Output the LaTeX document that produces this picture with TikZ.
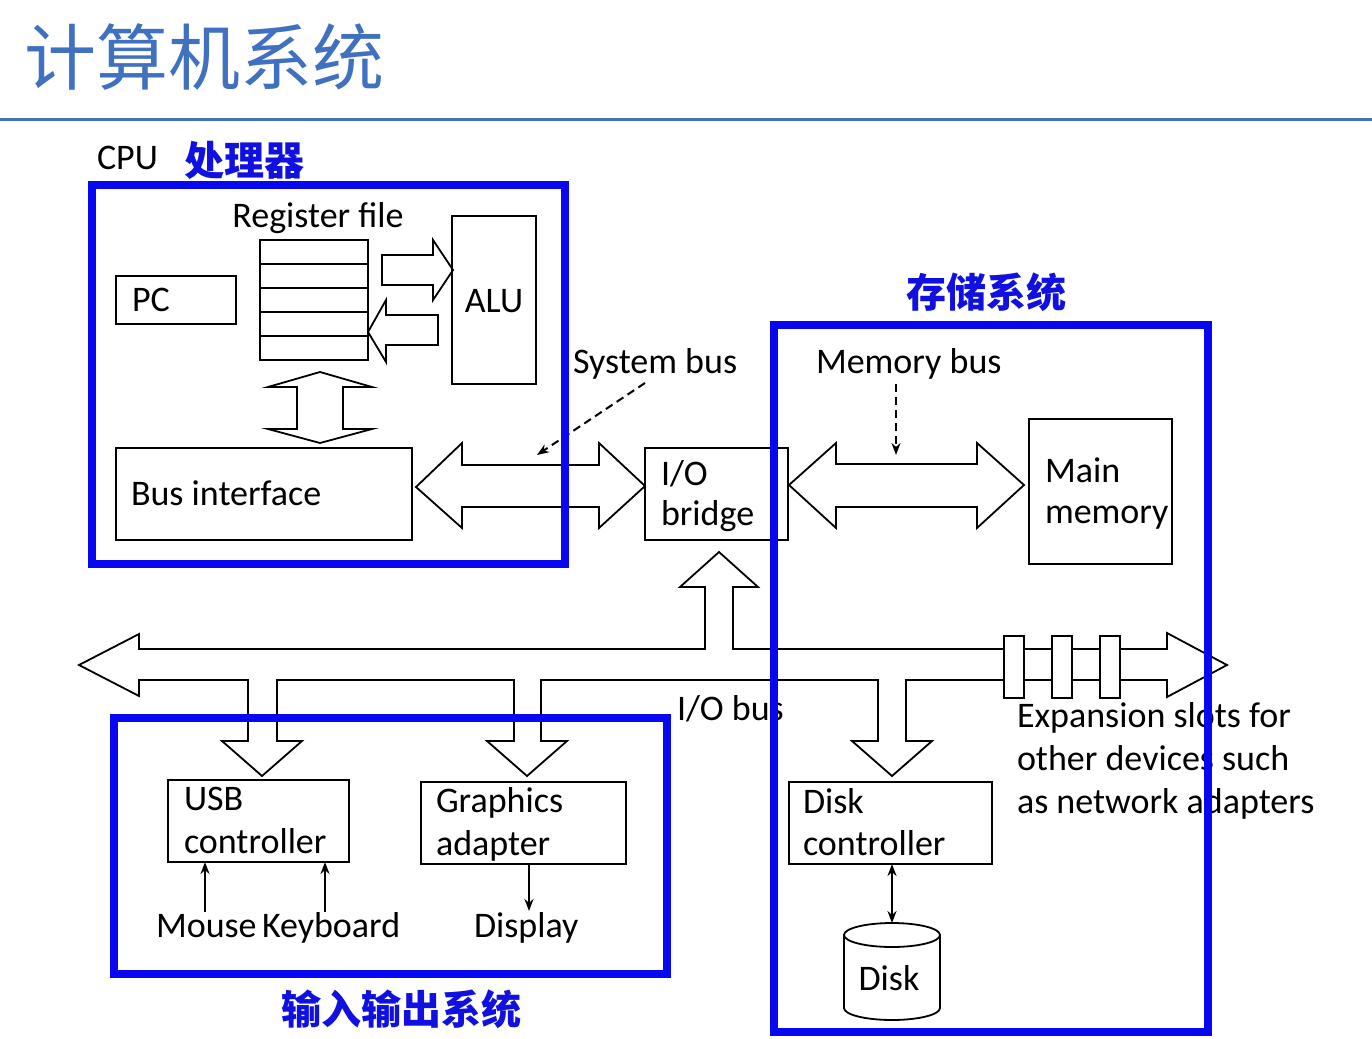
\documentclass[tikz,border=0pt]{standalone}
\usepackage{fontspec}
\setmainfont{Carlito}
\newfontfamily\cjk{Noto Sans CJK SC}
\usetikzlibrary{arrows.meta}
\definecolor{titleblue}{RGB}{64,112,192}
\definecolor{boxblue}{RGB}{8,8,240}
\definecolor{lblblue}{RGB}{16,16,224}
\begin{document}
\begin{tikzpicture}[x=1pt,y=-1pt,
  box/.style={draw=black, line width=1.8pt, inner sep=0pt, outer sep=0pt, anchor=north west},
  bluebox/.style={draw=boxblue, line width=8pt, inner sep=0pt, outer sep=0pt, anchor=north west},
  fat/.style={draw=black, line width=1.8pt, fill=white, line join=miter},
  txt/.style={anchor=base west, inner sep=0pt, outer sep=0pt, font=\fontsize{36}{43}\selectfont, align=left},
  cjklbl/.style={anchor=base west, inner sep=0pt, outer sep=0pt, text=lblblue, font=\cjk\bfseries\fontsize{40}{44}\selectfont},
  conn/.style={draw=black, line width=2pt},
  tip/.tip={Stealth[length=12pt,width=9pt]},
]
\useasboundingbox (0,0) rectangle (1372,1038);

% title
\node[anchor=base west, inner sep=0pt, text=titleblue, font=\cjk\fontsize{72}{80}\selectfont] (title) at (24,85) {计算机系统};
\draw[titleblue, line width=3pt] (0,120) -- (1372,120);

% ---------- fat bus arrows ----------
% I/O bus with branches
\draw[fat] (79,665) -- (139,634) -- (139,649) -- (705,649) -- (705,587) -- (680,587) -- (719,552)
  -- (758,587) -- (733,587) -- (733,649) -- (1167,649) -- (1167,633) -- (1227,665) -- (1167,697)
  -- (1167,680) -- (906,680) -- (906,741) -- (932,741) -- (892,776) -- (852,741) -- (878,741)
  -- (878,680) -- (541,680) -- (541,741) -- (567,741) -- (527,776) -- (487,741) -- (514,741)
  -- (514,680) -- (277,680) -- (277,741) -- (302,741) -- (262,776) -- (222,741) -- (248,741)
  -- (248,680) -- (139,680) -- (139,696) -- cycle;
\foreach \sx in {1004,1052,1100}
  \draw[fat] (\sx,636) rectangle ++(20,62);

% system bus
\draw[fat] (416,487) -- (462,443) -- (462,465) -- (599,465) -- (599,443) -- (645,486)
  -- (599,528) -- (599,507) -- (462,507) -- (462,528) -- cycle;
% memory bus
\draw[fat] (789,485) -- (836,443) -- (836,464) -- (977,464) -- (977,443) -- (1024,485)
  -- (977,528) -- (977,507) -- (836,507) -- (836,528) -- cycle;
% register file -> ALU
\draw[fat] (382,255) -- (433,255) -- (433,240) -- (453,270) -- (433,300) -- (433,285) -- (382,285) -- cycle;
% ALU -> register file
\draw[fat] (438,315) -- (386,315) -- (386,300) -- (368,332) -- (386,362) -- (386,345) -- (438,345) -- cycle;
% register file <-> bus interface
\draw[fat] (320,372) -- (372,387) -- (343,387) -- (343,429) -- (372,429) -- (320,443)
  -- (268,429) -- (297,429) -- (297,387) -- (268,387) -- cycle;

% ---------- boxes ----------
\node[box, minimum width=120pt, minimum height=48pt] (pc) at (116,276) {};
\node[box, minimum width=108pt, minimum height=120pt] (regfile) at (260,240) {};
\foreach \yy in {264,288,312,336}
  \draw[line width=1.8pt] (260,\yy) -- (368,\yy);
\node[box, minimum width=84pt, minimum height=168pt] (alu) at (452,216) {};
\node[box, minimum width=296pt, minimum height=92pt] (busif) at (116,448) {};
\node[box, minimum width=143pt, minimum height=92pt] (bridge) at (645,448) {};
\node[box, minimum width=143pt, minimum height=145pt] (mainmem) at (1029,419) {};
\node[box, minimum width=181pt, minimum height=82pt] (usb) at (168,780) {};
\node[box, minimum width=205pt, minimum height=82pt] (gfx) at (421,782) {};
\node[box, minimum width=203pt, minimum height=82pt] (diskctrl) at (789,782) {};

% disk cylinder
\node[inner sep=0pt, outer sep=0pt, minimum width=96pt, minimum height=97pt] (disk) at (892,971.5) {};
\draw[line width=1.8pt, fill=white] (844,935) -- (844,1008) arc[start angle=180, end angle=360, x radius=48pt, y radius=12pt] -- (940,935);
\draw[line width=1.8pt] (892,935) ellipse [x radius=48pt, y radius=12pt];

% ---------- texts ----------
\node[txt] (cpu) at (97,169) {CPU};
\node[cjklbl] (cpulbl) at (184,175) {处理器};
\node[cjklbl] (memlbl) at (906,307) {存储系统};
\node[cjklbl] (iolbl) at (281,1024) {输入输出系统};

\node[txt, anchor=base] (regfilelbl) at (318,227) {Register file};
\node[txt] (pclbl) at (132,311) {PC};
\node[txt, anchor=base] (alulbl) at (494,312) {ALU};
\node[txt] (busiflbl) at (131,505) {Bus interface};
\node[txt] (sysbus) at (573,373) {System bus};
\node[txt, font=\fontsize{36}{40}\selectfont] (bridgelbl) at (661,525) {I/O\\bridge};
\node[txt] (membus) at (816,373) {Memory bus};
\node[txt, font=\fontsize{36}{41}\selectfont] (mainmemlbl) at (1045,523) {Main\\memory};
\node[txt] (iobus) at (677,720) {I/O bus};
\node[txt] (expansion) at (1017,813) {Expansion slots for\\other devices such\\as network adapters};
\node[txt] (usblbl) at (184,853) {USB\\controller};
\node[txt] (gfxlbl) at (436,855) {Graphics\\adapter};
\node[txt, font=\fontsize{36}{42}\selectfont] (diskctrllbl) at (803,855) {Disk\\controller};
\node[txt] (mouse) at (156,937) {Mouse};
\node[txt] (kbd) at (262,937) {Keyboard};
\node[txt] (disp) at (474,937) {Display};
\node[txt, anchor=base] (disklbl) at (889,990) {Disk};

% ---------- thin connectors ----------
\coordinate (mousetop) at (205,912);
\coordinate (kbdtop) at (325,912);
\coordinate (disptop) at (529,911);
\coordinate (sbstart) at (645,383);
\coordinate (sbtip) at (537,455);
\coordinate (mbstart) at (896,384);
\coordinate (mbtip) at (896,455);
\draw[conn, -tip] (mousetop) -- (mousetop |- usb.south);
\draw[conn, -tip] (kbdtop) -- (kbdtop |- usb.south);
\draw[conn, -tip] (disptop |- gfx.south) -- (disptop);
\draw[conn, tip-tip] (diskctrl.south -| disk.north) -- (disk.north);
\draw[conn, -tip, dash pattern=on 8pt off 5pt] (sbstart) -- (sbtip);
\draw[conn, -tip, dash pattern=on 8pt off 5pt] (mbstart) -- (mbtip);

% ---------- blue group frames ----------
\node[bluebox, minimum width=473.5pt, minimum height=379.5pt] (cpubox) at (91.5,184.5) {};
\node[bluebox, minimum width=434pt, minimum height=707.5pt] (membox) at (774,324.5) {};
\node[bluebox, minimum width=553pt, minimum height=256pt] (iobox) at (114,718) {};
\end{tikzpicture}
\end{document}
